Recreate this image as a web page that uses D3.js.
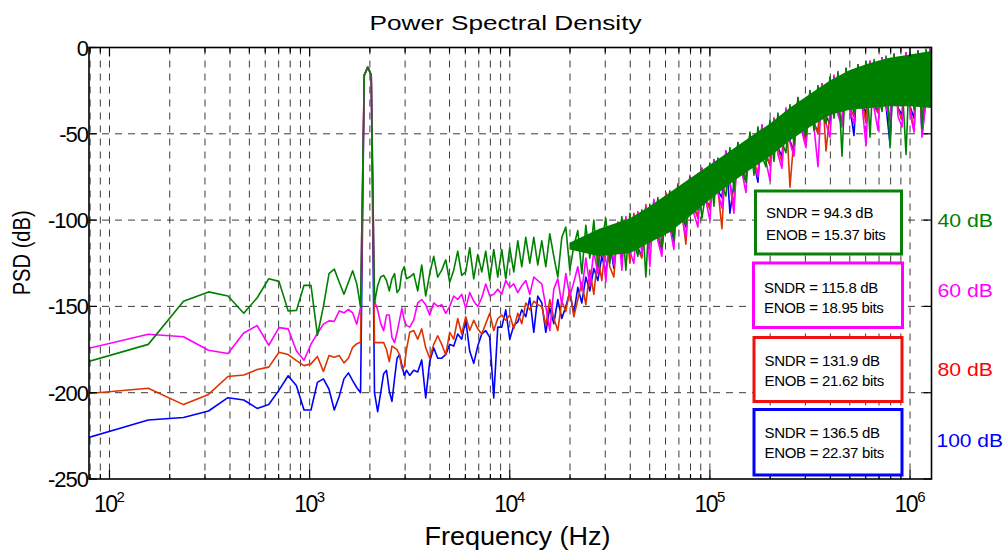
<!DOCTYPE html>
<html>
<head>
<meta charset="utf-8">
<script src="https://cdn.jsdelivr.net/npm/d3@7/dist/d3.min.js"></script>
<style>
  html, body { margin: 0; padding: 0; background: #fff; }
  svg { display: block; font-family: "Liberation Sans", Arial, Helvetica, sans-serif; }
</style>
</head>
<body>
<div id="chart"></div>
<script>
// ── Data ────────────────────────────────────────────────────────────────────
// FFT bin spacing (Hz); the low part of every trace is one value per bin k = 1..39
const binHz = 78.125

const greenLow = [-182, -172, -147, -141.6, -144, -154, -145, -134, -135.5, -152.7, -152.3, -137.8, -137.8, -166.7, -150, -131, -128.4, -136, -143, -136, -129.4, -136.7, -150.3, -16, -11.4, -16, -148, -138, -133, -132, -135, -141, -134, -131, -142, -140, -130, -127, -134]
const magentaLow = [-174.4, -166.1, -167.6, -175.4, -177.3, -165.4, -161.1, -172.5, -162.3, -163, -175.8, -181.2, -171.9, -165.7, -160.3, -158.4, -158.6, -152.6, -153.7, -151.8, -153.7, -160.3, -150.7, -16, -11.4, -16, -147, -152, -160, -164, -155, -155, -168, -171, -165, -158, -151, -158, -161]
const redLow = [-200.5, -197.4, -206.9, -201, -190.6, -189.7, -186.6, -185.2, -176.6, -177.9, -181.4, -184.3, -183.3, -179, -187.7, -178.5, -179.4, -178.5, -182.7, -180, -173.7, -171.7, -170.8, -16, -11.4, -16, -171, -171, -171, -171, -175, -182, -173, -174, -175, -178, -186, -185, -175]
const blueLow = [-226, -215.8, -214.4, -210.6, -202.9, -204.2, -209.1, -206.8, -198.5, -190.2, -196, -210, -210, -194, -192, -198, -210, -202, -192, -188.5, -193, -197, -200, -16, -11.4, -16, -200, -211, -200, -189, -187, -199, -205, -192, -180, -178, -184, -190, -187]

// high part: one value per 0.02 decade, starting at 10^3.5 Hz
const hiStartLog = 3.5
const hiStepLog = 0.02

const greenHi = [-133, -131, -141, -126, -144, -131, -121, -133, -129, -123, -136, -129, -118, -132, -130, -116, -134, -120, -130, -118, -135, -117, -133, -117, -134, -116, -130, -112, -127, -110, -125, -110, -126,
  -112, -127, -108, -121, -133, -110, -104, -129, -115, -106,
  -131, -103, -122, -100, -127, -112, -99, -125, -104, -118,
  -98, -129, -96, -112, -121, -94, -133, -91, -110, -87,
  -116, -99, -83, -112, -80, -97, -103, -75, -95, -73,
  -99, -84, -67, -92, -64, -80, -86, -58, -83, -55,
  -71, -78, -49, -74, -46, -63, -69, -42, -66, -38,
  -55, -61, -33, -56, -29, -44, -51, -25, -48, -22,
  -39, -44, -17, -41, -14, -63, -12, -30, -38, -10,
  -35, -8, -52, -7, -27, -37, -5, -58, -4, -33,
  -20, -62, -3, -36, -2, -47, -1, -30, 0]
const magentaHi = [-162, -158, -148, -146, -149, -155, -148, -150, -149, -154, -150, -144, -146, -143, -151, -142, -147, -150, -145, -137, -144, -143, -140, -143, -135, -139, -137, -142, -138, -135, -143, -133, -135,
  -137, -150, -164, -140, -134, -149, -131, -144, -136, -127,
  -141, -122, -138, -118, -131, -110, -136, -104, -126, -101,
  -129, -98, -118, -125, -95, -120, -92, -127, -88, -112,
  -121, -85, -104, -117, -80, -98, -110, -74, -96, -104,
  -70, -89, -100, -65, -84, -93, -60, -79, -96, -55,
  -72, -84, -50, -68, -75, -45, -66, -77, -41, -62,
  -70, -35, -55, -63, -29, -49, -58, -25, -46, -69,
  -21, -44, -52, -16, -39, -46, -12, -37, -44, -10,
  -33, -57, -8, -35, -48, -6, -34, -43, -4, -40,
  -46, -3, -38, -49, -2, -52, -30, -1, -44]
const redHi = [-165, -164, -169, -163, -174, -180, -172, -167, -172, -178, -165, -169, -157, -166, -156, -164, -158, -163, -166, -160, -154, -164, -157, -155, -158, -155, -163, -154, -160, -148, -152, -147, -149,
  -150, -161, -146, -157, -164, -147, -153, -140, -156, -146,
  -136, -149, -129, -143, -121, -135, -112, -127, -133, -103,
  -120, -99, -125, -96, -117, -122, -91, -114, -89, -108,
  -116, -84, -100, -109, -79, -95, -114, -75, -92, -99,
  -70, -87, -94, -66, -82, -105, -61, -78, -91, -56,
  -70, -77, -50, -66, -73, -46, -62, -68, -41, -59,
  -66, -36, -81, -52, -30, -47, -55, -26, -44, -50,
  -21, -60, -38, -17, -36, -43, -13, -35, -40, -10,
  -31, -44, -8, -34, -38, -6, -33, -41, -4, -36,
  -42, -3, -35, -48, -2, -40, -31, -1, -37]
const blueHi = [-190, -187, -188, -181, -203, -182, -174, -180, -180, -178, -172, -173, -166, -169, -158, -176, -183, -173, -166, -164, -168, -203, -162, -162, -152, -169, -161, -159, -152, -156, -145, -165, -144,
  -148, -165, -151, -160, -146, -157, -150, -142, -154, -139,
  -148, -133, -141, -128, -135, -121, -130, -113, -128, -105,
  -122, -100, -119, -97, -116, -121, -92, -113, -89, -110,
  -117, -85, -102, -112, -80, -97, -104, -75, -93, -98,
  -70, -88, -93, -65, -83, -87, -60, -96, -79, -56,
  -70, -77, -50, -67, -78, -45, -62, -68, -41, -58,
  -63, -36, -54, -60, -30, -48, -53, -26, -44, -49,
  -21, -40, -44, -17, -38, -42, -13, -35, -51, -10,
  -33, -38, -8, -33, -37, -6, -34, -56, -4, -35,
  -39, -3, -34, -41, -2, -50, -30, -1, -38]

// solid part of the top (green) noise band
const bandHz = [2e4, 2.8e4, 4e4, 5e4, 6.3e4, 7.9e4, 1e5, 1.26e5, 1.58e5, 2e5, 2.5e5, 3.16e5, 4e5, 5e5, 6.3e5, 7.9e5, 1e6, 1.28e6]
const greenBandTop = [-113, -105, -99, -92, -84, -76, -68, -60, -52, -44, -35, -27, -19, -13, -9, -6, -4, -2]
const greenBandBot = [-117, -121, -119, -113, -107, -98, -88, -79, -71, -63, -54, -46, -39, -36, -35, -34, -34, -35]

const osrLabels = ['40 dB', '60 dB', '80 dB', '100 dB']
const sndrDb = [94.3, 115.8, 131.9, 136.5]
const enobBits = [15.37, 18.95, 21.62, 22.37]
const yTicks = [0, -50, -100, -150, -200, -250]
const xDecades = [2, 3, 4, 5, 6]

// ── Layout ──────────────────────────────────────────────────────────────────
const W = 1008, H = 555
const L = 89, R = 931.5, T = 47.5, B = 479
const colors = { green: '#008000', magenta: '#ff00ff', red: '#dd3300', blue: '#0000ff' }
const boxColors = ['#0a800a', '#ff00ff', '#f01010', '#0000ff']
const labelColors = ['#008000', '#ff00ff', '#ff0000', '#0000ff']

const svg = d3.select('#chart').append('svg').attr('width', W).attr('height', H)

const x = d3.scaleLog().domain([79, 1.28e6]).range([L, R])
const y = d3.scaleLinear().domain([-250, 0]).range([B, T])

svg.append('defs').append('clipPath').attr('id', 'plot-clip')
  .append('rect').attr('x', L).attr('y', T - 2).attr('width', R - L).attr('height', B - T + 2)

// ── Grid ────────────────────────────────────────────────────────────────────
const gridX = []
for (let e = 1; e <= 6; e++) for (let m = 1; m <= 9; m++) {
  const f = m * Math.pow(10, e)
  if (f > 79 && f < 1.28e6) gridX.push(f)
}
const grid = svg.append('g').attr('stroke', '#000').attr('stroke-width', 0.9).attr('stroke-dasharray', '7,6').attr('opacity', 0.85)
grid.selectAll('line.gx').data(gridX).join('line').attr('class', 'gx')
  .attr('x1', d => x(d)).attr('x2', d => x(d)).attr('y1', T).attr('y2', B)
grid.selectAll('line.gy').data(yTicks.filter(v => v > -250 && v < 0)).join('line').attr('class', 'gy')
  .attr('x1', L).attr('x2', R).attr('y1', d => y(d)).attr('y2', d => y(d))

// ── Traces ──────────────────────────────────────────────────────────────────
const toPoints = (low, hi) => [
  ...low.map((v, i) => [(i + 1) * binHz, v]),
  ...hi.map((v, i) => [Math.pow(10, hiStartLog + i * hiStepLog), v])
]
const traces = [
  { color: colors.blue, pts: toPoints(blueLow, blueHi) },
  { color: colors.red, pts: toPoints(redLow, redHi) },
  { color: colors.magenta, pts: toPoints(magentaLow, magentaHi) },
  { color: colors.green, pts: toPoints(greenLow, greenHi), band: true }
]
const line = d3.line().x(d => x(d[0])).y(d => y(d[1]))
const band = d3.area().x(d => x(d[0])).y0(d => y(d[2])).y1(d => y(d[1]))
const plot = svg.append('g').attr('clip-path', 'url(#plot-clip)')
traces.forEach(t => {
  if (t.band) {
    plot.append('path').datum(bandHz.map((f, i) => [f, greenBandTop[i], greenBandBot[i]]))
      .attr('d', band).attr('fill', t.color)
  }
  plot.append('path').datum(t.pts).attr('d', line)
    .attr('fill', 'none').attr('stroke', t.color).attr('stroke-width', 1.6).attr('stroke-linejoin', 'round')
})

// ── Axes box & ticks ────────────────────────────────────────────────────────
const ax = svg.append('g').attr('stroke', '#000').attr('stroke-width', 1.2)
gridX.forEach(f => {
  const major = Number.isInteger(Math.log10(f))
  const len = major ? 9 : 5
  ax.append('line').attr('x1', x(f)).attr('x2', x(f)).attr('y1', B).attr('y2', B - len)
  ax.append('line').attr('x1', x(f)).attr('x2', x(f)).attr('y1', T).attr('y2', T + len)
})
yTicks.forEach(v => {
  ax.append('line').attr('x1', L).attr('x2', L + 8).attr('y1', y(v)).attr('y2', y(v))
  ax.append('line').attr('x1', R).attr('x2', R - 8).attr('y1', y(v)).attr('y2', y(v))
})
svg.append('rect').attr('x', L).attr('y', T).attr('width', R - L).attr('height', B - T)
  .attr('fill', 'none').attr('stroke', '#000').attr('stroke-width', 1.6)

// tick labels
svg.append('g').selectAll('text').data(yTicks).join('text')
  .attr('x', L - 1).attr('y', d => y(d) + 8)
  .attr('text-anchor', 'end').attr('font-size', 22).attr('letter-spacing', -1)
  .text(d => d)
const xl = svg.append('g')
xDecades.forEach(e => {
  const t = xl.append('text').attr('x', x(Math.pow(10, e))).attr('y', 512).attr('text-anchor', 'middle')
  t.append('tspan').attr('font-size', 23).attr('letter-spacing', -1.5).text('10')
  t.append('tspan').attr('font-size', 15).attr('dy', -10).text(e)
})

// titles
svg.append('text').attr('x', 505.5).attr('y', 30).attr('text-anchor', 'middle')
  .attr('font-size', 20.5).attr('textLength', 272).attr('lengthAdjust', 'spacingAndGlyphs')
  .text('Power Spectral Density')
svg.append('text').attr('x', 517.5).attr('y', 545).attr('text-anchor', 'middle')
  .attr('font-size', 25).attr('textLength', 186).attr('lengthAdjust', 'spacingAndGlyphs')
  .text('Frequency (Hz)')
svg.append('text').attr('transform', 'translate(29.5,252.8) rotate(-90)').attr('text-anchor', 'middle')
  .attr('font-size', 23).attr('textLength', 85).attr('lengthAdjust', 'spacingAndGlyphs')
  .text('PSD (dB)')

// ── Result boxes and OSR labels ─────────────────────────────────────────────
const boxes = [
  { x0: 755.5, x1: 901.5, y0: 191, y1: 254, t1: 218.3, t2: 240, tx: 766 },
  { x0: 753.5, x1: 902.5, y0: 263, y1: 327.5, t1: 293.3, t2: 312.7, tx: 764 },
  { x0: 754, x1: 902, y0: 337.5, y1: 401.5, t1: 366, t2: 386, tx: 764.5 },
  { x0: 754, x1: 902, y0: 409.5, y1: 475, t1: 438.3, t2: 458.3, tx: 764.5 }
]
const osrY = [226.7, 296.7, 375.7, 446.7]
const osrLen = [55.5, 55.5, 55.5, 66.5]
boxes.forEach((b, i) => {
  svg.append('rect').attr('x', b.x0).attr('y', b.y0).attr('width', b.x1 - b.x0).attr('height', b.y1 - b.y0)
    .attr('fill', '#fff').attr('stroke', boxColors[i]).attr('stroke-width', 3)
  svg.append('text').attr('x', b.tx).attr('y', b.t1).attr('font-size', 15).attr('letter-spacing', -0.3)
    .text(`SNDR = ${sndrDb[i].toFixed(1)} dB`)
  svg.append('text').attr('x', b.tx).attr('y', b.t2).attr('font-size', 15).attr('letter-spacing', -0.3)
    .text(`ENOB = ${enobBits[i].toFixed(2)} bits`)
  svg.append('text').attr('x', i === 3 ? 936.5 : 937.5).attr('y', osrY[i]).attr('font-size', 19)
    .attr('textLength', osrLen[i]).attr('lengthAdjust', 'spacingAndGlyphs')
    .attr('fill', labelColors[i]).text(osrLabels[i])
})
</script>
</body>
</html>
